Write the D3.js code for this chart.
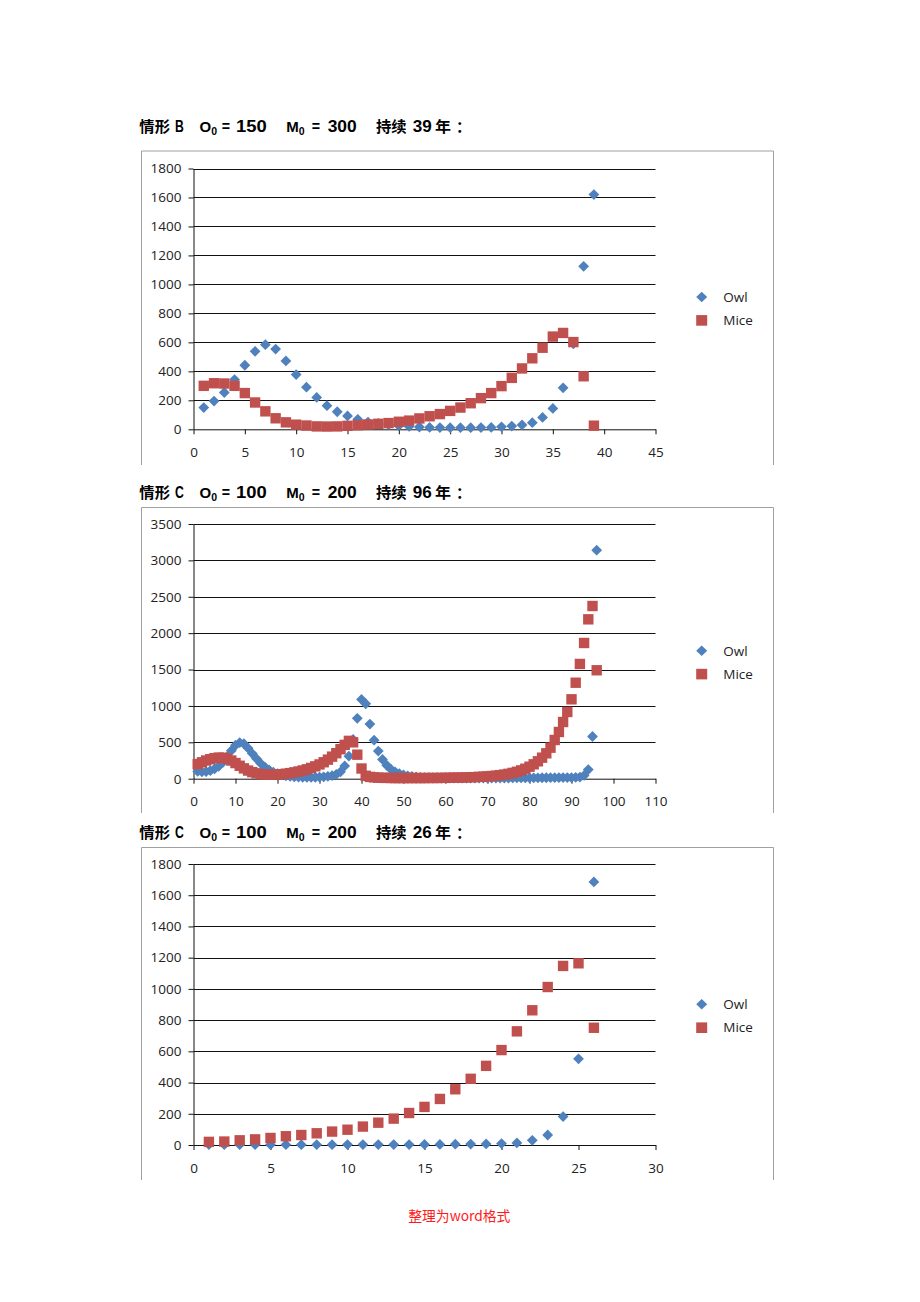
<!DOCTYPE html>
<html><head><meta charset="utf-8">
<script src="https://cdn.jsdelivr.net/npm/d3@7"></script>
<style>body{margin:0;background:#fff} svg{display:block}</style>
</head><body><svg id="c" width="920" height="1302"></svg>
<script>
// ---------- data ----------
const seriesNames = ["Owl", "Mice"];

// 情形B (years 1..39)
const owlB  = [150,195,254,343,442,538,584,554,472,378,291,220,163,121,92,69,50,40,32,25,20,16,13,12,11,11,11,12,13,17,22,30,46,82,144,286,590,1125,1620];
const miceB = [300,318,316,300,250,185,124,76,48,32,26,20,19,20,24,28,33,38,43,52,60,75,90,105,127,150,180,215,250,298,355,420,490,563,640,665,602,366,25];

// 情形C (years 1..96)
const owlC1 = [100,95,98,110,135,170,225,300,385,460,
               495,480,420,345,275,210,160,120,90,68,
               52,40,32,26,22,20,19,19,20,22,
               26,32,42,60,95,175,310,540,830,1090,
               1030,750,530,380,265,185,130,95,70,52,
               40,31,24,19,16,13,11,10,9,9,
               8,8,8,8,8,8,8,8,8,8,
               8,8,9,9,9,10,10,10,11,11,
               12,12,13,13,14,14,15,15,16,16,
               18,22,45,125,580,3140];
const miceC1 = [200,225,250,268,282,290,288,275,250,215,
                178,142,112,90,74,63,57,54,54,57,
                62,69,77,87,99,113,129,148,170,196,
                226,262,303,350,405,465,520,500,330,140,
                40,25,18,14,12,11,10,9,9,9,
                9,9,9,9,9,10,10,10,11,12,
                13,14,15,16,18,20,22,25,28,32,
                37,42,49,57,67,80,95,114,137,165,
                198,239,289,349,426,532,642,779,917,1091,
                1319,1577,1865,2190,2373,1490];

// 情形C (years 1..26)
const owlC2  = [3,2,2,2,2,2,2,2,2,3,3,3,3,3,4,4,5,6,7,9,13,30,64,182,552,1685];
const miceC2 = [20,22,30,36,45,56,64,75,86,98,118,143,169,205,244,295,357,424,507,608,728,863,1012,1147,1164,751];

// tick labels
const xTicksB  = [0,5,10,15,20,25,30,35,40,45];
const yTicksB  = [0,200,400,600,800,1000,1200,1400,1600,1800];
const xTicksC1 = [0,10,20,30,40,50,60,70,80,90,100,110];
const yTicksC1 = [0,500,1000,1500,2000,2500,3000,3500];
const xTicksC2 = [0,5,10,15,20,25,30];
const yTicksC2 = [0,200,400,600,800,1000,1200,1400,1600,1800];

// title texts
const scenarios = ["情形", "情形", "情形"];
const scenarioLetters = ["B", "C", "C"];
const owl0 = ["150", "100", "100"];
const mice0 = ["300", "200", "200"];
const durations = ["39", "96", "26"];
const footerText = "整理为word格式";

// ---------- layout ----------
const charts = [
  {owl: owlB,  mice: miceB,  xt: xTicksB,  yt: yTicksB,  titleY: 131.5, fTop: 151, fBot: 465, yTop: 168.5, yBot: 429.3, legY: 297},
  {owl: owlC1, mice: miceC1, xt: xTicksC1, yt: yTicksC1, titleY: 497.5, fTop: 507.5, fBot: 813, yTop: 524, yBot: 778.7, legY: 650.7},
  {owl: owlC2, mice: miceC2, xt: xTicksC2, yt: yTicksC2, titleY: 837.5, fTop: 847.5, fBot: 1180, yTop: 864, yBot: 1145, legY: 1004.3}
];

const svg = d3.select("#c");
const X0 = 193.5, X1 = 655.5;
const OWL = "#4F81BD", MICE = "#C0504D";
const diamond = "M0,-5.4L5.4,0L0,5.4L-5.4,0Z";
const labelFont = "'Open Sans', 'Liberation Sans', sans-serif";
const cjkFont = "'Noto Sans CJK SC', sans-serif";
const latFont = "'Liberation Sans', Arial, sans-serif";

charts.forEach((c, i) => {
  // title: one text element, pieces as tspans (subscripts flow after their letter)
  const parts = [
    {x: 139.3, t: scenarios[i], f: cjkFont, s: 15, w: 30.7},
    {x: 175, t: scenarioLetters[i], f: latFont, s: 16.5, w: 8.8},
    {x: 199.5, t: "O", f: latFont, s: 15},
    {t: "0", f: latFont, s: 10.5, dy: 3},
    {x: 221.7, t: "=", f: latFont, s: 16, w: 8.3},
    {x: 236, t: owl0[i], f: latFont, s: 16.5, w: 30.7},
    {x: 286.2, t: "M", f: latFont, s: 15},
    {t: "0", f: latFont, s: 10.5, dy: 3},
    {x: 311.7, t: "=", f: latFont, s: 16, w: 8.3},
    {x: 327.7, t: mice0[i], f: latFont, s: 16.5, w: 29},
    {x: 376, t: "持续", f: cjkFont, s: 15, w: 30.7},
    {x: 412.7, t: durations[i], f: latFont, s: 16.5, w: 19},
    {x: 435, t: "年", f: cjkFont, s: 15, w: 16},
    {x: 456, t: "：", f: cjkFont, s: 15}
  ];
  const title = svg.append("text").attr("fill", "#000").attr("font-weight", 700);
  parts.forEach(p => {
    const ts = title.append("tspan").attr("y", c.titleY + (p.dy || 0))
      .attr("font-family", p.f).attr("font-size", p.s).text(p.t);
    if (p.x !== undefined) ts.attr("x", p.x);
    if (p.w) ts.attr("textLength", p.w).attr("lengthAdjust", "spacingAndGlyphs");
  });

  // frame (top, left, right)
  svg.append("path")
    .attr("d", `M141.5,${c.fBot}V${c.fTop}H773.5V${c.fBot}`)
    .attr("fill", "none").attr("stroke", "#a0a0a0").attr("stroke-width", 1);

  const x = d3.scaleLinear().domain([c.xt[0], c.xt[c.xt.length - 1]]).range([X0, X1]);
  const y = d3.scaleLinear().domain([c.yt[0], c.yt[c.yt.length - 1]]).range([c.yBot, c.yTop]);

  // gridlines
  svg.append("g").selectAll("line").data(c.yt.slice(1)).join("line")
    .attr("x1", X0).attr("x2", X1)
    .attr("y1", d => Math.round(y(d)) + 0.5).attr("y2", d => Math.round(y(d)) + 0.5)
    .attr("stroke", "#111").attr("stroke-width", 1);

  // axes
  const ya = svg.append("g").attr("transform", `translate(${X0},0)`)
    .call(d3.axisLeft(y).tickValues(c.yt).tickSize(5).tickSizeOuter(0).tickPadding(7).tickFormat(d3.format("d")));
  const xa = svg.append("g").attr("transform", `translate(0,${c.yBot})`)
    .call(d3.axisBottom(x).tickValues(c.xt).tickSize(5).tickSizeOuter(0).tickPadding(13).tickFormat(d3.format("d")));
  [ya, xa].forEach(a => {
    a.selectAll("path, line").attr("stroke", "#111");
    a.selectAll("text").attr("font-family", labelFont).attr("font-size", 13.5).attr("fill", "#222");
  });

  // points: owl first, mice on top
  svg.append("g").selectAll("path").data(c.owl).join("path")
    .attr("d", diamond)
    .attr("transform", (d, j) => `translate(${x(j + 1)},${y(d)})`)
    .attr("fill", OWL);
  svg.append("g").selectAll("rect").data(c.mice).join("rect")
    .attr("x", (d, j) => x(j + 1) - 5.2).attr("y", d => y(d) - 5.2)
    .attr("width", 10.4).attr("height", 10.4)
    .attr("fill", MICE);

  // legend
  const lg = svg.append("g").attr("transform", `translate(701.7,${c.legY})`);
  lg.append("path").attr("d", "M0,-5.3L5.5,0L0,5.3L-5.5,0Z").attr("fill", OWL);
  lg.append("rect").attr("x", -5.5).attr("y", 23.4 - 5.3).attr("width", 11).attr("height", 10.6).attr("fill", MICE);
  lg.selectAll("text").data(seriesNames).join("text")
    .attr("x", 21.6).attr("y", (d, j) => j * 23.4 + 4.8)
    .attr("font-family", labelFont).attr("font-size", 13.5).attr("fill", "#222")
    .text(d => d);
});

// footer
svg.append("text").attr("x", 408.3).attr("y", 1221)
  .attr("font-family", cjkFont).attr("font-size", 14).attr("fill", "#ff1a1a")
  .attr("textLength", 102).attr("lengthAdjust", "spacingAndGlyphs")
  .text(footerText);
</script>
</body></html>
